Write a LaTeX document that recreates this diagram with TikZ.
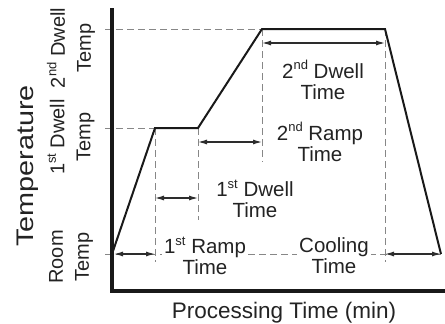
\documentclass[tikz,border=0pt]{standalone}
\usepackage{fontspec}
\setmainfont{Liberation Sans}
\usetikzlibrary{arrows.meta}
\definecolor{cureink}{RGB}{25,25,25}
\definecolor{curegray}{RGB}{135,135,135}
\definecolor{curearrow}{RGB}{45,45,45}
\definecolor{curetext}{RGB}{35,35,35}
\newcommand{\ordsup}[1]{\raisebox{0.42em}{\fontsize{13}{13}\selectfont #1}}

\begin{document}
\begin{tikzpicture}[x=1pt,y=-1pt,
    tempguide/.style={curegray,line width=0.8pt,dash pattern=on 7pt off 4pt},
    timespan/.style={curearrow,line width=1.1pt,
        {Latex[length=9pt,width=5pt]}-{Latex[length=9pt,width=5pt]}},
    lbl/.style={text=curetext,font=\fontsize{20.5}{21}\selectfont,align=center,
        fill=white,inner sep=2pt},
    vlbl/.style={text=curetext,font=\fontsize{20}{26}\selectfont,align=center,
        rotate=90,inner sep=0pt}]
\useasboundingbox (0,0) rectangle (445,324);
\coordinate (ytop) at (112,8);
\coordinate (origin) at (112,291);
\coordinate (xend) at (445,291);
\coordinate (room) at (112,254);
\coordinate (dwellAin) at (155,128);
\coordinate (dwellAout) at (198,128);
\coordinate (dwellBin) at (262,29);
\coordinate (dwellBout) at (385,29);
\coordinate (cooled) at (441,254);
\coordinate (roomtick) at (105,254);
\coordinate (tempAtick) at (105,128);
\coordinate (tempBtick) at (105,29);
\coordinate (dropA) at (155,262);
\coordinate (dropB) at (198,220);
\coordinate (dropC) at (262,162);
\coordinate (dropD) at (385,262);
\coordinate (rowA) at (0,198);
\coordinate (rowB) at (0,142);
\coordinate (rowC) at (0,43);

\draw[tempguide] (roomtick) -- (cooled);
\draw[tempguide] (tempAtick) -- (dwellAin);
\draw[tempguide] (tempBtick) -- (dwellBin);
\draw[tempguide] (dwellAin) -- (dropA);
\draw[tempguide] (dwellAout) -- (dropB);
\draw[tempguide] (dwellBin) -- (dropC);
\draw[tempguide] (dwellBout) -- (dropD);

\node[lbl] (bdwell) at (323,80) {2\ordsup{nd} Dwell\\Time};
\node[lbl] (bramp) at (320,142) {2\ordsup{nd} Ramp\\Time};
\node[lbl] (adwell) at (255,199) {1\ordsup{st} Dwell\\Time};
\node[lbl] (aramp) at (205,256) {1\ordsup{st} Ramp\\Time};
\node[lbl] (cooling) at (334,256) {Cooling\\Time};

\draw[cureink,line width=2pt,line join=miter]
    (room) -- (dwellAin) -- (dwellAout) -- (dwellBin) -- (dwellBout) -- (cooled);

\draw[timespan,shorten <=2pt] (room) -- (room -| dwellAin);
\draw[timespan] (dwellAin |- rowA) -- (dwellAout |- rowA);
\draw[timespan] (dwellAout |- rowB) -- (dwellBin |- rowB);
\draw[timespan] (dwellBin |- rowC) -- (dwellBout |- rowC);
\draw[timespan] (dwellBout |- room) -- (cooled);

\draw[cureink,line width=4pt] (ytop) -- (origin.center) -- (xend);

\node[vlbl] (roomtemp) at (71,257) {Room\\Temp};
\node[vlbl] (atemp) at (71,137) {1\ordsup{st} Dwell\\Temp};
\node[vlbl] (btemp) at (71,48) {2\ordsup{nd} Dwell\\Temp};
\node[text=curetext,font=\fontsize{24}{26}\selectfont,rotate=90,anchor=base,inner sep=0pt]
    (ylabel) at (33,166) {\scalebox{1.2}[1]{Temperature}};
\node[text=curetext,font=\fontsize{22.5}{24}\selectfont,anchor=base,inner sep=0pt]
    (xlabel) at (284,318) {Processing Time (min)};
\end{tikzpicture}
\end{document}
